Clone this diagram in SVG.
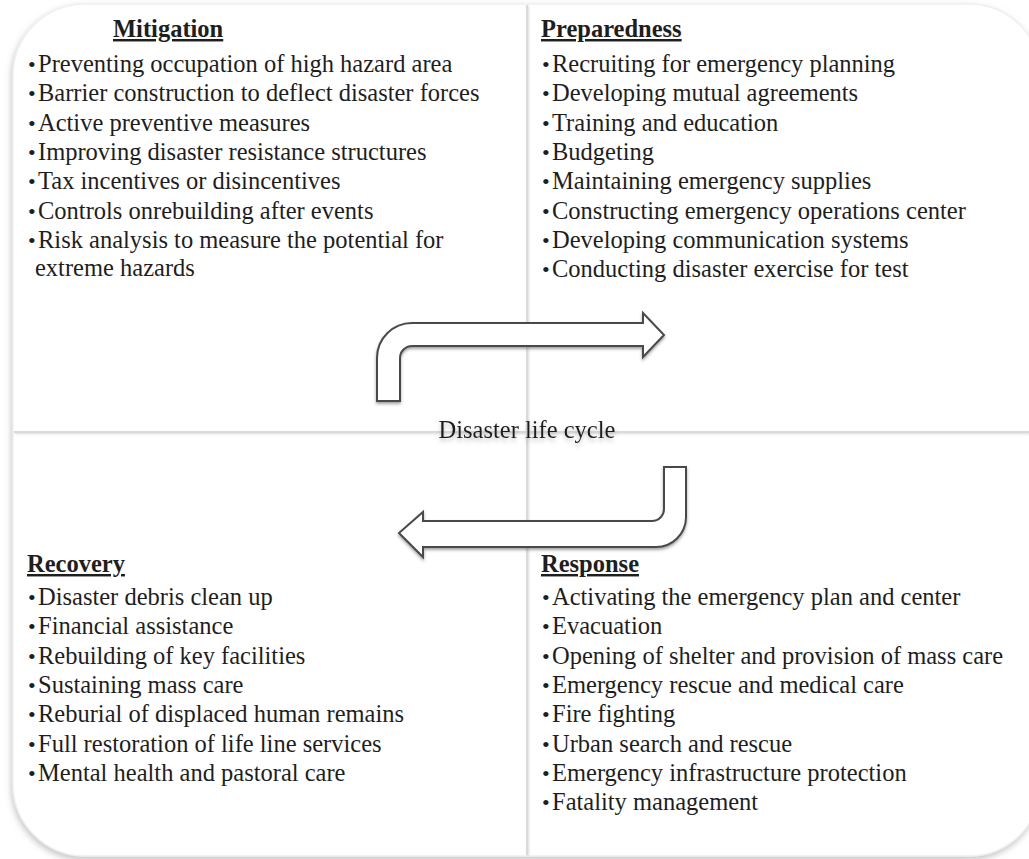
<svg xmlns="http://www.w3.org/2000/svg" width="1029" height="859" viewBox="0 0 1029 859">
  <defs>
    <filter id="frameShadow" x="-5%" y="-5%" width="110%" height="110%">
      <feDropShadow dx="-1" dy="3" stdDeviation="3" flood-color="#8a8a8a" flood-opacity="0.5"/>
    </filter>
    <filter id="lineShadow" x="-10%" y="-10%" width="120%" height="120%">
      <feDropShadow dx="1" dy="1" stdDeviation="1" flood-color="#b0b0b0" flood-opacity="0.5"/>
    </filter>
    <filter id="arrowShadow" x="-10%" y="-20%" width="120%" height="140%">
      <feDropShadow dx="0" dy="2" stdDeviation="1.6" flood-color="#555" flood-opacity="0.55"/>
    </filter>
    <filter id="textShadow" x="-10%" y="-40%" width="120%" height="180%">
      <feDropShadow dx="0" dy="3" stdDeviation="2.2" flood-color="#777" flood-opacity="0.45"/>
    </filter>
  </defs>
  <style>
    text { font-family: "Liberation Serif", "Times New Roman", serif; font-size: 24.5px; fill: #1e1e1e; }
    .head { font-weight: bold; text-decoration: underline; }
    .b { font-size: 22px; }
    .divider { stroke: #dadada; stroke-width: 2; fill: none; }
    .arrow { fill: #ffffff; stroke: #4a4a4a; stroke-width: 2; stroke-linejoin: miter; }
  </style>

  <rect width="1029" height="859" fill="#ffffff"/>

  <!-- outer rounded panel -->
  <rect x="13" y="4" width="1028" height="852" rx="72" ry="72" fill="#ffffff" stroke="#f0f0f0" stroke-width="1.5" filter="url(#frameShadow)"/>

  <!-- quadrant dividers -->
  <g id="dividers" filter="url(#lineShadow)">
    <line class="divider" x1="527" y1="5" x2="527" y2="855"/>
    <line class="divider" x1="14" y1="432" x2="1029" y2="432"/>
  </g>

  <!-- cycle arrows -->
  <g id="connectors" filter="url(#arrowShadow)">
    <path class="arrow" d="M377,401 L377,358 A35,35 0 0 1 412,323 L643,323 L643,313 L664,335 L643,357 L643,346 L412,346 A12,12 0 0 0 400,358 L400,401 Z"/>
    <path class="arrow" d="M686,467 L686,517 A30,30 0 0 1 656,547 L423,547 L423,557 L399,533 L423,512 L423,521 L652,521 A12,12 0 0 0 664,509 L664,467 Z"/>
  </g>

  <!-- centre label -->
  <g id="cycle-label">
    <text x="527" y="437.5" text-anchor="middle" filter="url(#textShadow)">Disaster life cycle</text>
  </g>

  <!-- Mitigation -->
  <g id="mitigation">
    <text class="head" x="113" y="37">Mitigation</text>
    <text x="28" y="72"><tspan class="b">•</tspan><tspan x="38">Preventing occupation of high hazard area</tspan></text>
    <text x="28" y="101.3"><tspan class="b">•</tspan><tspan x="38">Barrier construction to deflect disaster forces</tspan></text>
    <text x="28" y="130.6"><tspan class="b">•</tspan><tspan x="38">Active preventive measures</tspan></text>
    <text x="28" y="160"><tspan class="b">•</tspan><tspan x="38">Improving disaster resistance structures</tspan></text>
    <text x="28" y="189.3"><tspan class="b">•</tspan><tspan x="38">Tax incentives or disincentives</tspan></text>
    <text x="28" y="218.6"><tspan class="b">•</tspan><tspan x="38">Controls onrebuilding after events</tspan></text>
    <text x="28" y="248"><tspan class="b">•</tspan><tspan x="38">Risk analysis to measure the potential for</tspan></text>
    <text x="35" y="276">extreme hazards</text>
  </g>

  <!-- Preparedness -->
  <g id="preparedness">
    <text class="head" x="541" y="37">Preparedness</text>
    <text x="542" y="72"><tspan class="b">•</tspan><tspan x="552">Recruiting for emergency planning</tspan></text>
    <text x="542" y="101.3"><tspan class="b">•</tspan><tspan x="552">Developing mutual agreements</tspan></text>
    <text x="542" y="130.6"><tspan class="b">•</tspan><tspan x="552">Training and education</tspan></text>
    <text x="542" y="160"><tspan class="b">•</tspan><tspan x="552">Budgeting</tspan></text>
    <text x="542" y="189.3"><tspan class="b">•</tspan><tspan x="552">Maintaining emergency supplies</tspan></text>
    <text x="542" y="218.6"><tspan class="b">•</tspan><tspan x="552">Constructing emergency operations center</tspan></text>
    <text x="542" y="248"><tspan class="b">•</tspan><tspan x="552">Developing communication systems</tspan></text>
    <text x="542" y="277.3"><tspan class="b">•</tspan><tspan x="552">Conducting disaster exercise for test</tspan></text>
  </g>

  <!-- Recovery -->
  <g id="recovery">
    <text class="head" x="27" y="572">Recovery</text>
    <text x="28" y="605"><tspan class="b">•</tspan><tspan x="38">Disaster debris clean up</tspan></text>
    <text x="28" y="634.3"><tspan class="b">•</tspan><tspan x="38">Financial assistance</tspan></text>
    <text x="28" y="663.6"><tspan class="b">•</tspan><tspan x="38">Rebuilding of key facilities</tspan></text>
    <text x="28" y="693"><tspan class="b">•</tspan><tspan x="38">Sustaining mass care</tspan></text>
    <text x="28" y="722.3"><tspan class="b">•</tspan><tspan x="38">Reburial of displaced human remains</tspan></text>
    <text x="28" y="751.6"><tspan class="b">•</tspan><tspan x="38">Full restoration of life line services</tspan></text>
    <text x="28" y="781"><tspan class="b">•</tspan><tspan x="38">Mental health and pastoral care</tspan></text>
  </g>

  <!-- Response -->
  <g id="response">
    <text class="head" x="541" y="572">Response</text>
    <text x="542" y="605"><tspan class="b">•</tspan><tspan x="552">Activating the emergency plan and center</tspan></text>
    <text x="542" y="634.3"><tspan class="b">•</tspan><tspan x="552">Evacuation</tspan></text>
    <text x="542" y="663.6"><tspan class="b">•</tspan><tspan x="552">Opening of shelter and provision of mass care</tspan></text>
    <text x="542" y="693"><tspan class="b">•</tspan><tspan x="552">Emergency rescue and medical care</tspan></text>
    <text x="542" y="722.3"><tspan class="b">•</tspan><tspan x="552">Fire fighting</tspan></text>
    <text x="542" y="751.6"><tspan class="b">•</tspan><tspan x="552">Urban search and rescue</tspan></text>
    <text x="542" y="781"><tspan class="b">•</tspan><tspan x="552">Emergency infrastructure protection</tspan></text>
    <text x="542" y="810.3"><tspan class="b">•</tspan><tspan x="552">Fatality management</tspan></text>
  </g>
</svg>
